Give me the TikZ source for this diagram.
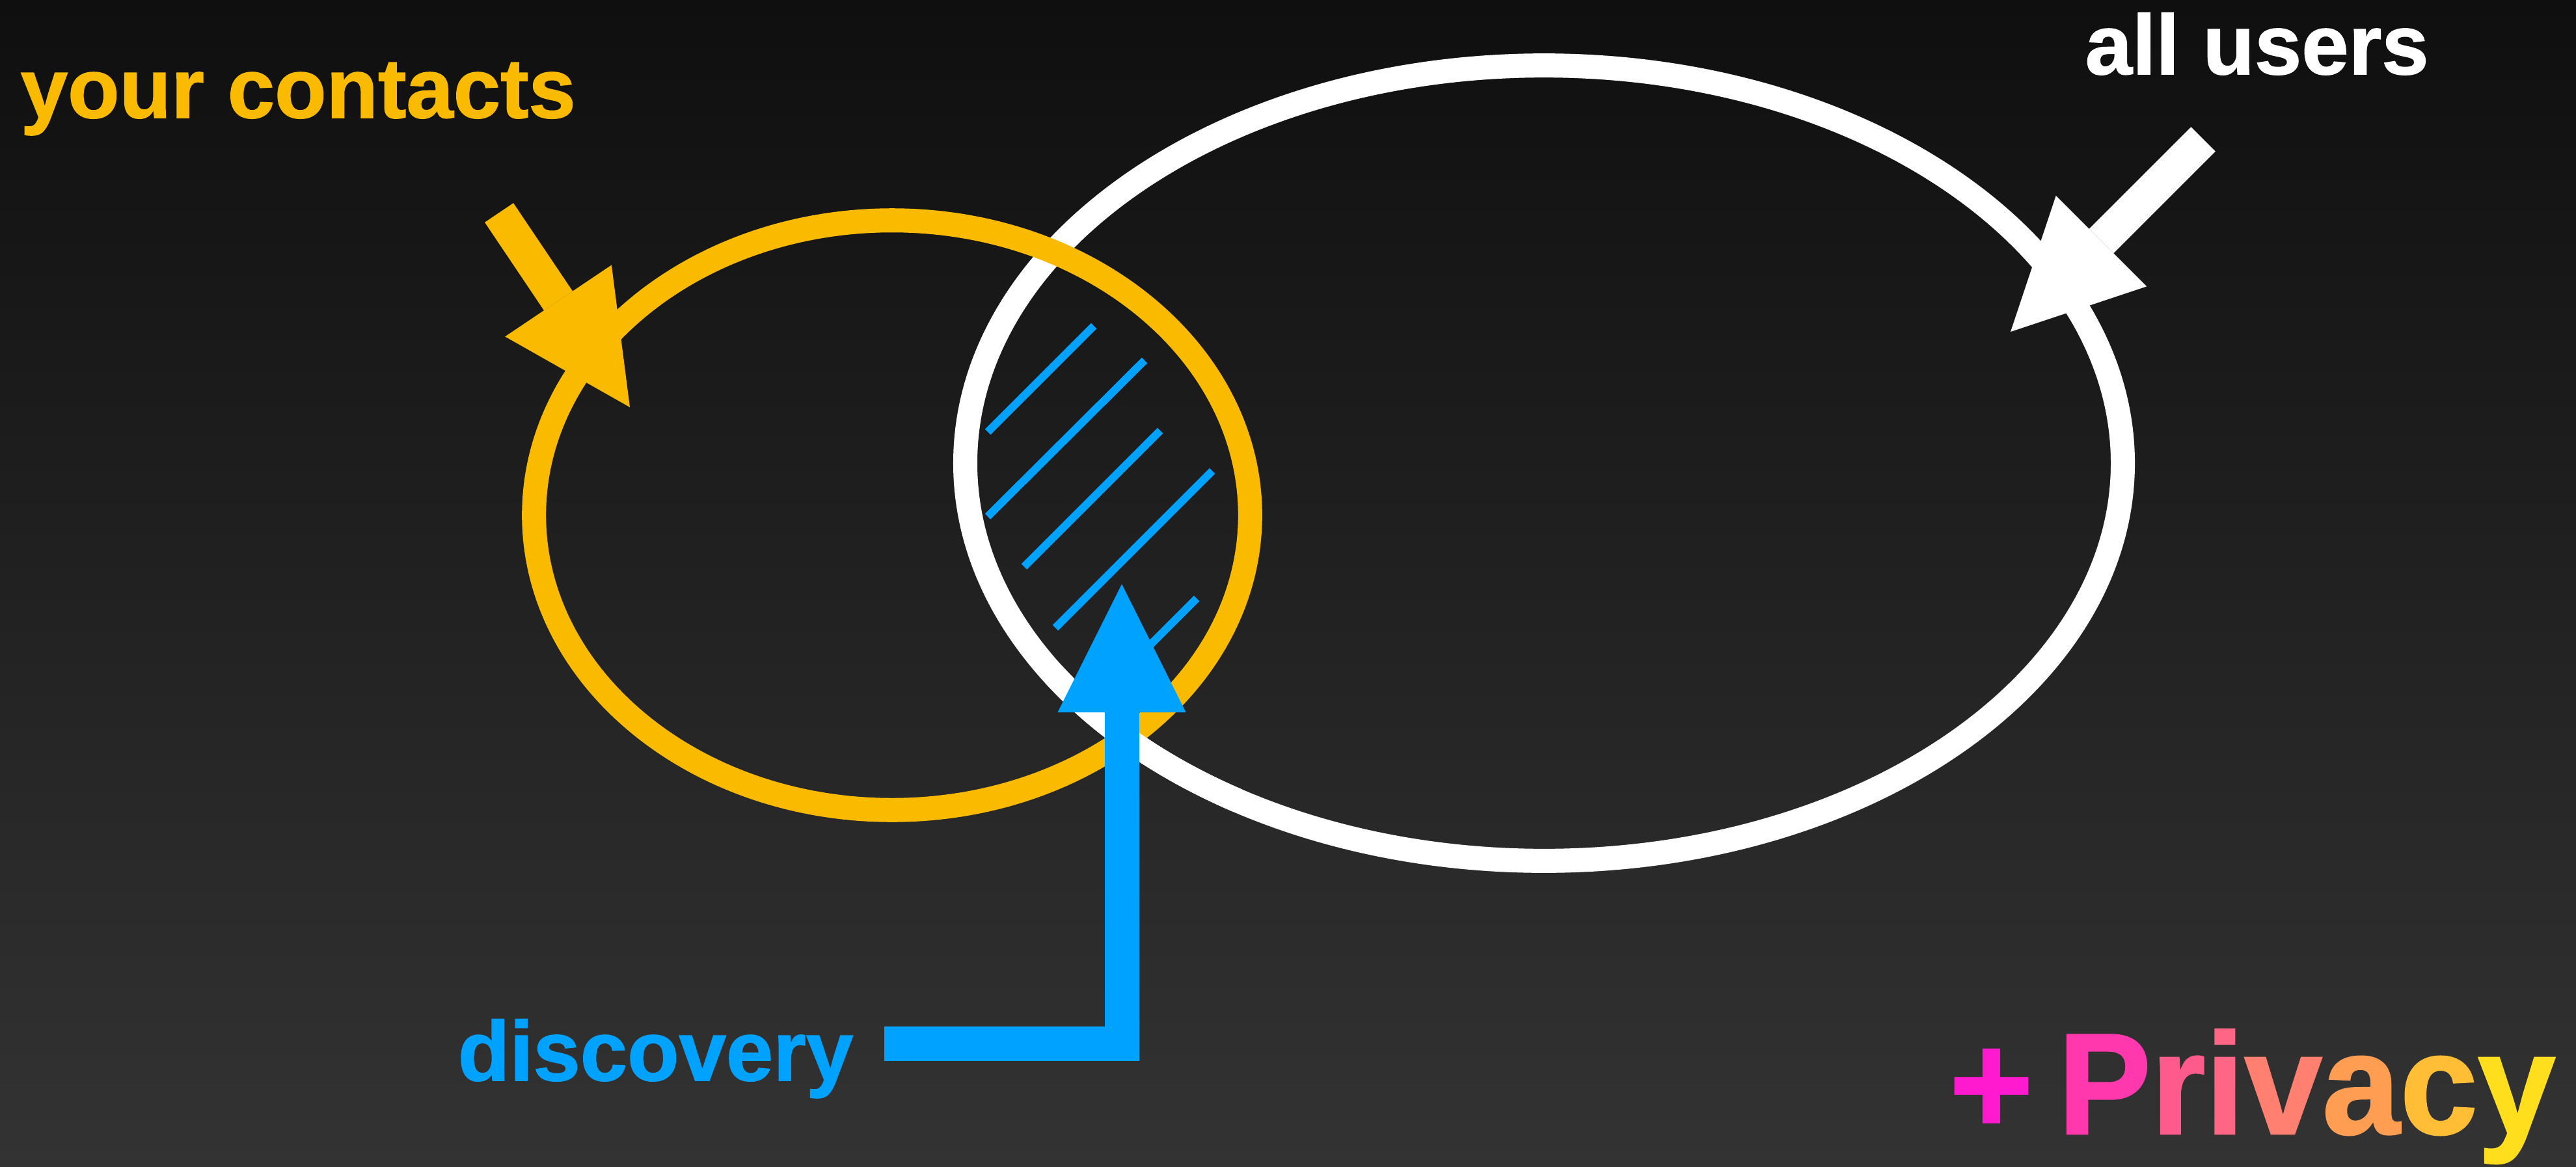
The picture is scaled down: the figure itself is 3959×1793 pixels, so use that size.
\documentclass[tikz,border=0pt]{standalone}
\usepackage{fontspec}
\setmainfont{Liberation Sans}
\newfontfamily\heavyfont{Liberation Sans}[UprightFont=*-Bold,FakeBold=1.2]
\usetikzlibrary{arrows.meta,calc}
\definecolor{bgtop}{RGB}{15,15,15}
\definecolor{bgbot}{RGB}{51,51,51}
\definecolor{cyel}{RGB}{249,186,0}
\definecolor{cblue}{RGB}{0,162,255}
\definecolor{pA}{RGB}{255,26,208}
\definecolor{pB}{RGB}{255,56,174}
\definecolor{pC}{RGB}{255,90,140}
\definecolor{pD}{RGB}{255,102,133}
\definecolor{pE}{RGB}{255,128,112}
\definecolor{pF}{RGB}{255,158,82}
\definecolor{pG}{RGB}{255,190,54}
\definecolor{pH}{RGB}{255,222,30}
\begin{document}
\begin{tikzpicture}[x=0.01cm,y=-0.01cm,
  lab/.style={inner sep=0pt,anchor=base west,font=\fontsize{37pt}{40pt}\selectfont\bfseries\heavyfont},
  biglab/.style={inner sep=0pt,anchor=base west,font=\fontsize{63pt}{66pt}\selectfont\bfseries\heavyfont},
  ring/.style={line width=0.37cm},
  bigarrow/.style={line width=0.53cm,-{Triangle[length=1.97cm,width=1.97cm,line width=0pt]}},
  hatch/.style={cblue,line width=0.12cm}]
\shade[top color=bgtop,bottom color=bgbot] (0,0) rectangle (3959,1793);
\useasboundingbox (0,0) rectangle (3959,1793);
% centres
\coordinate (W) at (2373,712);
\coordinate (Y) at (1371,792);
% all users ellipse
\draw[white,ring] (W) ellipse[x radius=8.89cm,y radius=6.11cm];
% your contacts ellipse
\draw[cyel,ring] (Y) ellipse[x radius=5.50cm,y radius=4.53cm];
% white over yellow at the lower crossing
\draw[white,ring] (W) ++(212:8.89cm and 6.11cm) arc[start angle=212,end angle=238,x radius=8.89cm,y radius=6.11cm];
% hatching of the intersection
\draw[hatch] (1518,664) -- (1681,501);
\draw[hatch] (1518,794) -- (1759,554);
\draw[hatch] (1574,871) -- (1783,662);
\draw[hatch] (1622,965) -- (1863,724);
\draw[hatch] (1760,999) -- (1839,920);
% arrows
\coordinate (yA) at (767,327);
\coordinate (yT) at (968,626);
\coordinate (wA) at (3386,214);
\coordinate (wT) at (3090,510);
\coordinate (bA) at (1359,1604);
\coordinate (bT) at (1724,898);
\draw[bigarrow,cyel] (yA) -- (yT);
\draw[bigarrow,white] (wA) -- (wT);
\draw[bigarrow,cblue] (bA) -| (bT);
% labels
\node[lab,text=cyel] (contacts) at (31,181) {your contacts};
\node[lab,text=white] (users) at (3204,114) {all users};
\node[lab,text=cblue] (disc) at (703,1661) {discovery};
\node[biglab,text=pA] (plus) at (2995,1743) {+};
\node[biglab] (priv) at (3162,1743) {\scalebox{0.97}[1]{\color{pB}P\color{pC}r\color{pD}i\color{pE}v\color{pF}a\color{pG}c\color{pH}y}};
\end{tikzpicture}
\end{document}
